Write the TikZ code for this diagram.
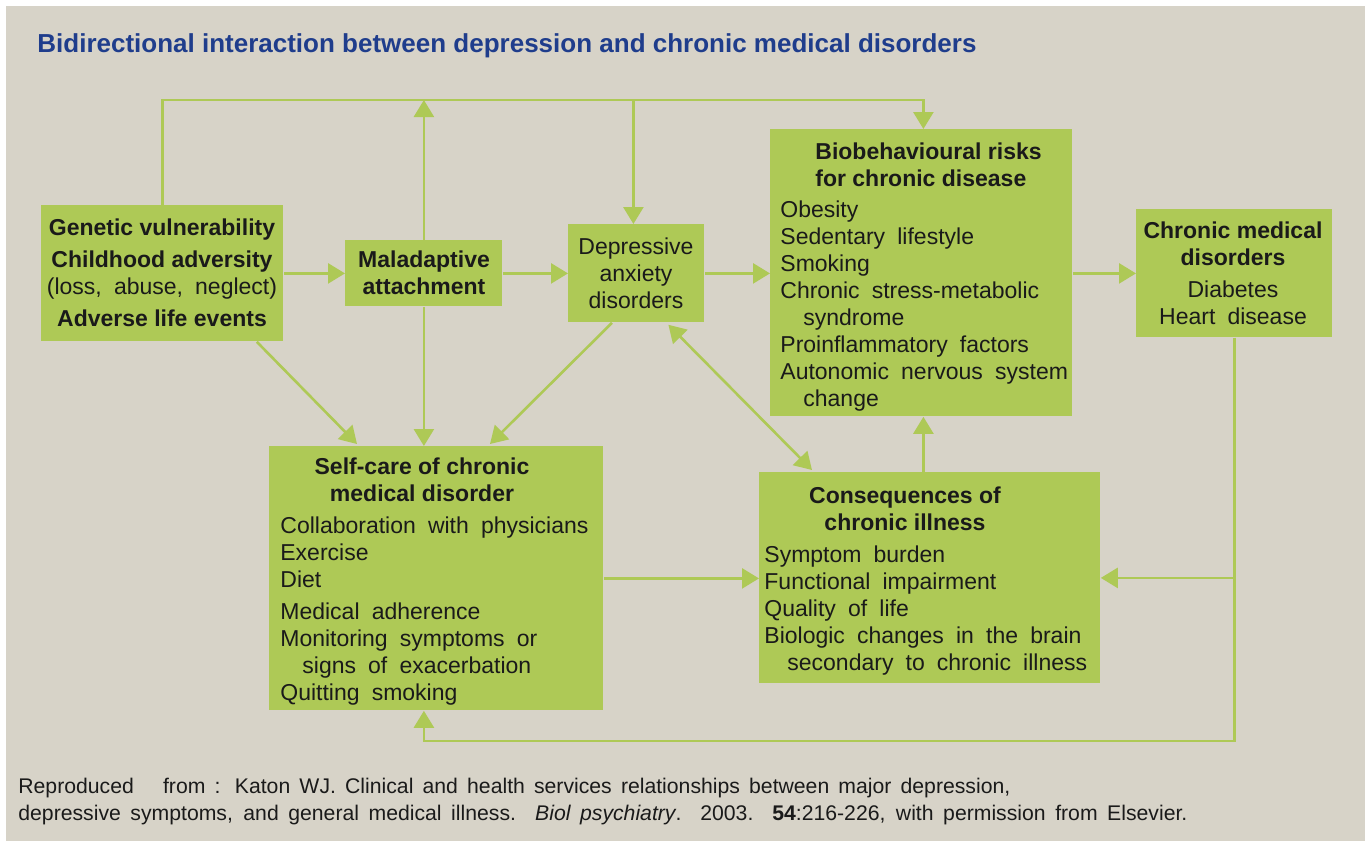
\documentclass[tikz,border=0pt]{standalone}
\usepackage{fontspec}
\setmainfont{Liberation Sans}[WordSpace=1.9]
\newfontfamily\headfont{Liberation Sans}
\newfontfamily\notefont{Liberation Sans}
\usetikzlibrary{arrows.meta,calc}

\definecolor{bggray}{HTML}{D7D3C8}
\definecolor{boxgreen}{HTML}{AEC956}
\definecolor{titleblue}{HTML}{1F3D8C}
\definecolor{textdark}{HTML}{1A1A1A}

\newcommand{\hd}[1]{{\headfont\bfseries #1}}
\newcommand{\blockL}[1]{\begin{tabular}[t]{@{}l@{}}#1\end{tabular}}
\newcommand{\blockC}[1]{\begin{tabular}[t]{@{}c@{}}#1\end{tabular}}

\begin{document}
\begin{tikzpicture}[x=0.5pt,y=-0.5pt,
  box/.style={rectangle,fill=boxgreen,inner sep=0pt,anchor=north west},
  txt/.style={inner sep=0pt,text=textdark,font=\fontsize{11.5}{13.5}\selectfont},
  note/.style={anchor=base west,inner sep=0pt,text=textdark,font=\notefont\fontsize{10.6}{12}\selectfont},
  arr/.style={draw=boxgreen,line width=1.3pt,-{Triangle[length=8.5pt,width=10pt]}},
  arrboth/.style={arr,{Triangle[length=8.5pt,width=10pt]}-{Triangle[length=8.5pt,width=10pt]}}]

\useasboundingbox (0,0) rectangle (1365,841);
\fill[bggray] (6,6) rectangle (1365,841);

\node[anchor=base west,inner sep=0pt,text=titleblue,font=\headfont\bfseries\fontsize{13}{15}\selectfont] (title) at (37,52)
  {Bidirectional interaction between depression and chronic medical disorders};

% boxes
\node[box,minimum width=121pt,minimum height=68pt] (gen) at (41,205) {};
\node[box,minimum width=78.5pt,minimum height=33pt] (mal) at (345,240) {};
\node[box,minimum width=68pt,minimum height=49pt] (dep) at (568,224) {};
\node[box,minimum width=151pt,minimum height=143.5pt] (bio) at (770,129) {};
\node[box,minimum width=98pt,minimum height=64pt] (chr) at (1136,209) {};
\node[box,minimum width=167pt,minimum height=132pt] (care) at (269,446) {};
\node[box,minimum width=170.5pt,minimum height=105.5pt] (cons) at (759,472) {};

% texts
\node[txt,anchor=base] (gentxt) at (162,235) {\blockC{\hd{Genetic vulnerability}\\[2.5pt]
  \hd{Childhood adversity}\\ (loss, abuse, neglect)\\[2.5pt] \hd{Adverse life events}}};
\node[txt,anchor=base] (maltxt) at (424,267) {\blockC{\hd{Maladaptive}\\ \hd{attachment}}};
\node[txt,anchor=base] (deptxt) at (636,254) {\blockC{Depressive\\ anxiety\\ disorders}};
\node[txt,anchor=base west] (biotxt) at (780,159) {\blockL{\hspace*{17.5pt}\hd{Biobehavioural risks}\\
  \hspace*{17.5pt}\hd{for chronic disease}\\[2pt]
  Obesity\\ Sedentary lifestyle\\ Smoking\\ Chronic stress-metabolic\\
  \hspace*{11.5pt}syndrome\\ Proinflammatory factors\\ Autonomic nervous system\\
  \hspace*{11.5pt}change}};
\node[txt,anchor=base] (chrtxt) at (1233,238) {\blockC{\hd{Chronic medical}\\ \hd{disorders}\\[2.5pt]
  Diabetes\\ Heart disease}};
\node[txt,anchor=base] (caretitle) at (422,474) {\blockC{\hd{Self-care of chronic}\\ \hd{medical disorder}}};
\node[txt,anchor=base west] (caretxt) at (280,533) {\blockL{Collaboration with physicians\\ Exercise\\ Diet\\[2.5pt]
  Medical adherence\\ Monitoring symptoms or\\ \hspace*{11pt}signs of exacerbation\\ Quitting smoking}};
\node[txt,anchor=base] (constitle) at (905,503) {\blockC{\hd{Consequences of}\\ \hd{chronic illness}}};
\node[txt,anchor=base west] (constxt) at (764,562) {\blockL{Symptom burden\\ Functional impairment\\
  Quality of life\\ Biologic changes in the brain\\ \hspace*{11.5pt}secondary to chronic illness}};

% connectors
\coordinate (topl) at (0,100);
\coordinate (botl) at (0,741);
\draw[arr] (gen.north) -- (gen.north |- topl) -| ($(bio.north)+(2,0)$);
\draw[arr] (mal.north) -- (mal.north |- topl);
\draw[arr] ($(dep.north |- topl)+(-3,0)$) -- ($(dep.north)+(-3,0)$);
\draw[arr] (gen) -- (mal);
\draw[arr] (mal) -- (dep);
\draw[arr] (dep) -- (bio.west |- dep);
\draw[arr] (bio.east |- chr) -- (chr);
\draw[arr] ($(gen.south east)+(-27,0)$) -- ($(care.north west)+(88,-2)$);
\draw[arr] (mal.south) -- (mal.south |- care.north);
\draw[arr] ($(dep.south west)+(44,0)$) -- ($(care.north west)+(221,-2)$);
\draw[arrboth] ($(dep.south)+(32,2)$) -- ($(cons.north west)+(53,-2)$);
\draw[arr] ($(bio.south |- cons.north)+(2,0)$) -- ($(bio.south)+(2,0)$);
\draw[arr] (care) -- (care -| cons.west);
\draw[arr] (chr.south) |- (cons.east);
\draw[arr] (chr.south) -- (chr.south |- botl) -| (care.south -| mal.south);

% source
\node[note] (note1) at (18,793)
  {\makebox[496pt][s]{Reproduced\hspace{10pt} from : Katon WJ. Clinical and health services relationships between major depression,}};
\node[note] (note2) at (18,820)
  {\makebox[584.5pt][s]{depressive symptoms, and general medical illness.\ \ \textit{Biol psychiatry}. 2003. \textbf{54}:216-226, with permission from Elsevier.}};

\end{tikzpicture}
\end{document}
